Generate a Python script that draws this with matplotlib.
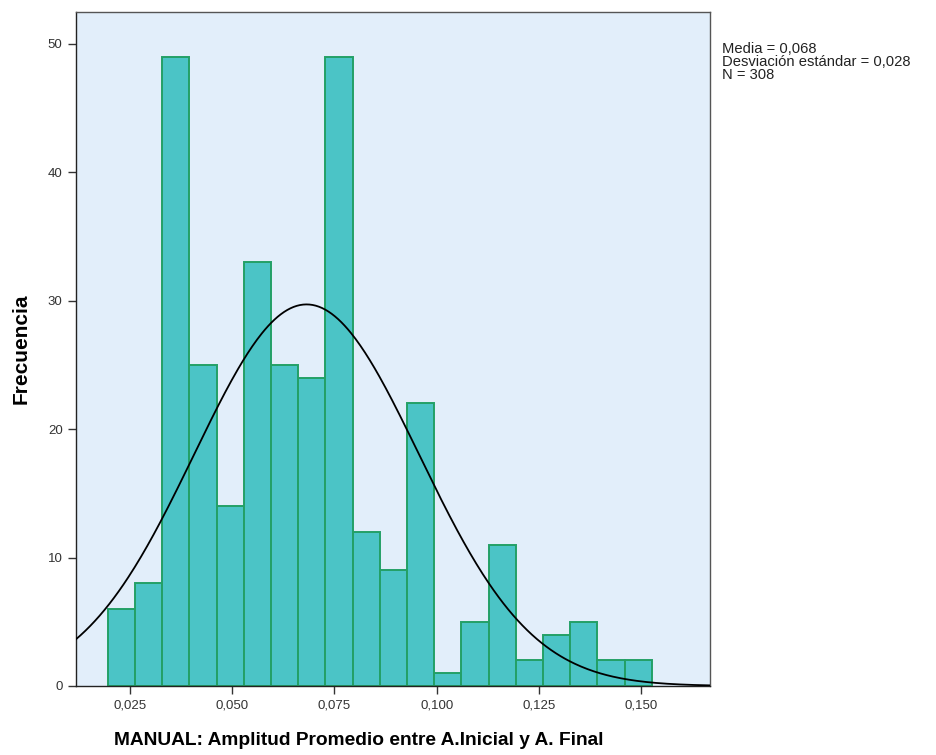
import numpy as np
import matplotlib
matplotlib.use("Agg")
import matplotlib.pyplot as plt

plt.rcParams['font.family'] = ['Liberation Sans', 'DejaVu Sans']

# Data
bin_start = 0.0196
bin_width = 0.00665
counts = [6, 8, 49, 25, 14, 33, 25, 24, 49, 12, 9, 22, 1, 5, 11, 2, 4, 5, 2, 2]
mean_val = 0.0682
std_val = 0.0275
n_total = 308
x_ticks = [0.025, 0.050, 0.075, 0.100, 0.125, 0.150]
x_tick_labels = ["0,025", "0,050", "0,075", "0,100", "0,125", "0,150"]
y_ticks = [0, 10, 20, 30, 40, 50]
stats_text = "Media = 0,068\nDesviación estándar = 0,028\nN = 308"

fig = plt.figure(figsize=(9.36, 7.55), dpi=100)
ax = fig.add_axes([0.081, 0.0914, 0.6775, 0.893])
ax.set_facecolor('#E2EEFA')

edges = bin_start + bin_width * np.arange(len(counts))
ax.bar(edges, counts, width=bin_width, align='edge', color='#4BC4C6',
       edgecolor='#23A066', linewidth=1.4, zorder=2)

xs = np.linspace(0.0118, 0.1668, 400)
ys = n_total * bin_width / (std_val * np.sqrt(2 * np.pi)) * np.exp(-0.5 * ((xs - mean_val) / std_val) ** 2)
ax.plot(xs, ys, color='black', linewidth=1.3, zorder=3)

ax.set_xlim(0.0118, 0.1668)
ax.set_ylim(0, 52.5)
ax.set_xticks(x_ticks)
ax.set_xticklabels(x_tick_labels, fontsize=9.5, color='#333333')
ax.set_yticks(y_ticks)
ax.set_yticklabels([str(v) for v in y_ticks], fontsize=9.5, color='#333333')
ax.tick_params(direction='out', length=6, width=1, color='#333333')
for s in ax.spines.values():
    s.set_color('#555555')
    s.set_linewidth(1.0)
ax.spines['bottom'].set_color('#222222')
ax.spines['left'].set_color('#222222')

ax.set_xlabel("MANUAL: Amplitud Promedio entre A.Inicial y A. Final",
              fontsize=13.8, fontweight='bold')
ax.xaxis.set_label_coords(0.446, -0.068)
ax.set_ylabel("Frecuencia", fontsize=15, fontweight='bold', labelpad=12)

fig.text(0.771, 0.945, stats_text, fontsize=10.6, va='top', ha='left',
         color='#222222', linespacing=0.92)

fig.savefig("out.png", dpi=100)
